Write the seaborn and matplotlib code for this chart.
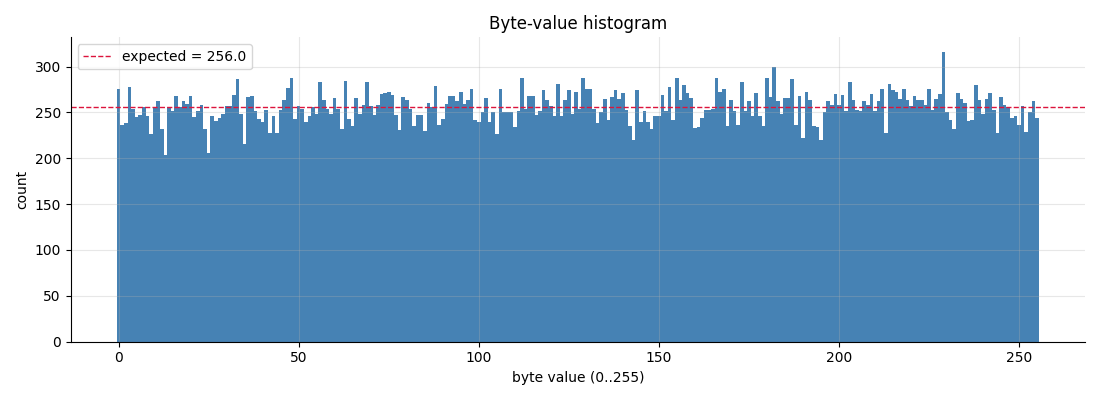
import numpy as np
import matplotlib
matplotlib.use("Agg")
import matplotlib.pyplot as plt
import seaborn as sns

# byte values 0..255 and the count read for each one
byte_values = list(range(256))
counts = [
    276, 236, 238, 278, 254, 245, 247, 256, 246, 226, 256, 262, 232, 203, 256, 252,
    268, 256, 262, 259, 268, 245, 251, 258, 232, 206, 246, 241, 244, 248, 257, 257,
    269, 286, 248, 216, 267, 268, 252, 243, 240, 253, 228, 246, 227, 253, 263, 277,
    287, 243, 257, 254, 239, 246, 256, 248, 283, 263, 254, 248, 266, 254, 232, 284,
    243, 235, 266, 248, 258, 283, 257, 247, 258, 270, 271, 272, 269, 247, 231, 267,
    264, 254, 235, 247, 247, 230, 260, 256, 279, 236, 243, 259, 268, 268, 262, 272,
    259, 263, 276, 242, 239, 250, 266, 239, 250, 226, 276, 250, 250, 250, 234, 252,
    288, 254, 268, 268, 247, 252, 274, 264, 257, 246, 281, 246, 264, 274, 248, 272,
    254, 287, 276, 276, 254, 238, 250, 265, 242, 267, 274, 265, 271, 253, 235, 220,
    274, 240, 251, 240, 232, 246, 246, 269, 252, 278, 242, 287, 264, 280, 271, 266,
    233, 234, 244, 253, 253, 254, 288, 272, 276, 235, 264, 252, 236, 283, 252, 262,
    246, 271, 246, 235, 288, 267, 300, 262, 248, 266, 266, 286, 236, 268, 222, 272,
    263, 235, 234, 220, 250, 262, 258, 270, 258, 269, 252, 283, 264, 253, 251, 262,
    258, 270, 252, 262, 275, 228, 281, 274, 272, 265, 275, 264, 257, 268, 264, 264,
    258, 276, 253, 265, 270, 316, 250, 242, 232, 271, 265, 260, 241, 242, 280, 264,
    248, 265, 271, 253, 227, 267, 258, 256, 244, 246, 236, 257, 229, 250, 262, 244,
]
expected = 256.0

fig, ax = plt.subplots(figsize=(11, 4), dpi=100)

sns.histplot(x=byte_values, weights=counts, discrete=True, color="#4682B4",
             alpha=1.0, linewidth=0, ax=ax)

ax.axhline(expected, color="crimson", linestyle="--", linewidth=1,
           label=f"expected = {expected}")

ax.set_title("Byte-value histogram")
ax.set_xlabel("byte value (0..255)")
ax.set_ylabel("count")
ax.grid(alpha=0.3)
ax.spines["top"].set_visible(False)
ax.spines["right"].set_visible(False)
ax.legend(loc="upper left")

plt.tight_layout()
plt.savefig("out.png")
